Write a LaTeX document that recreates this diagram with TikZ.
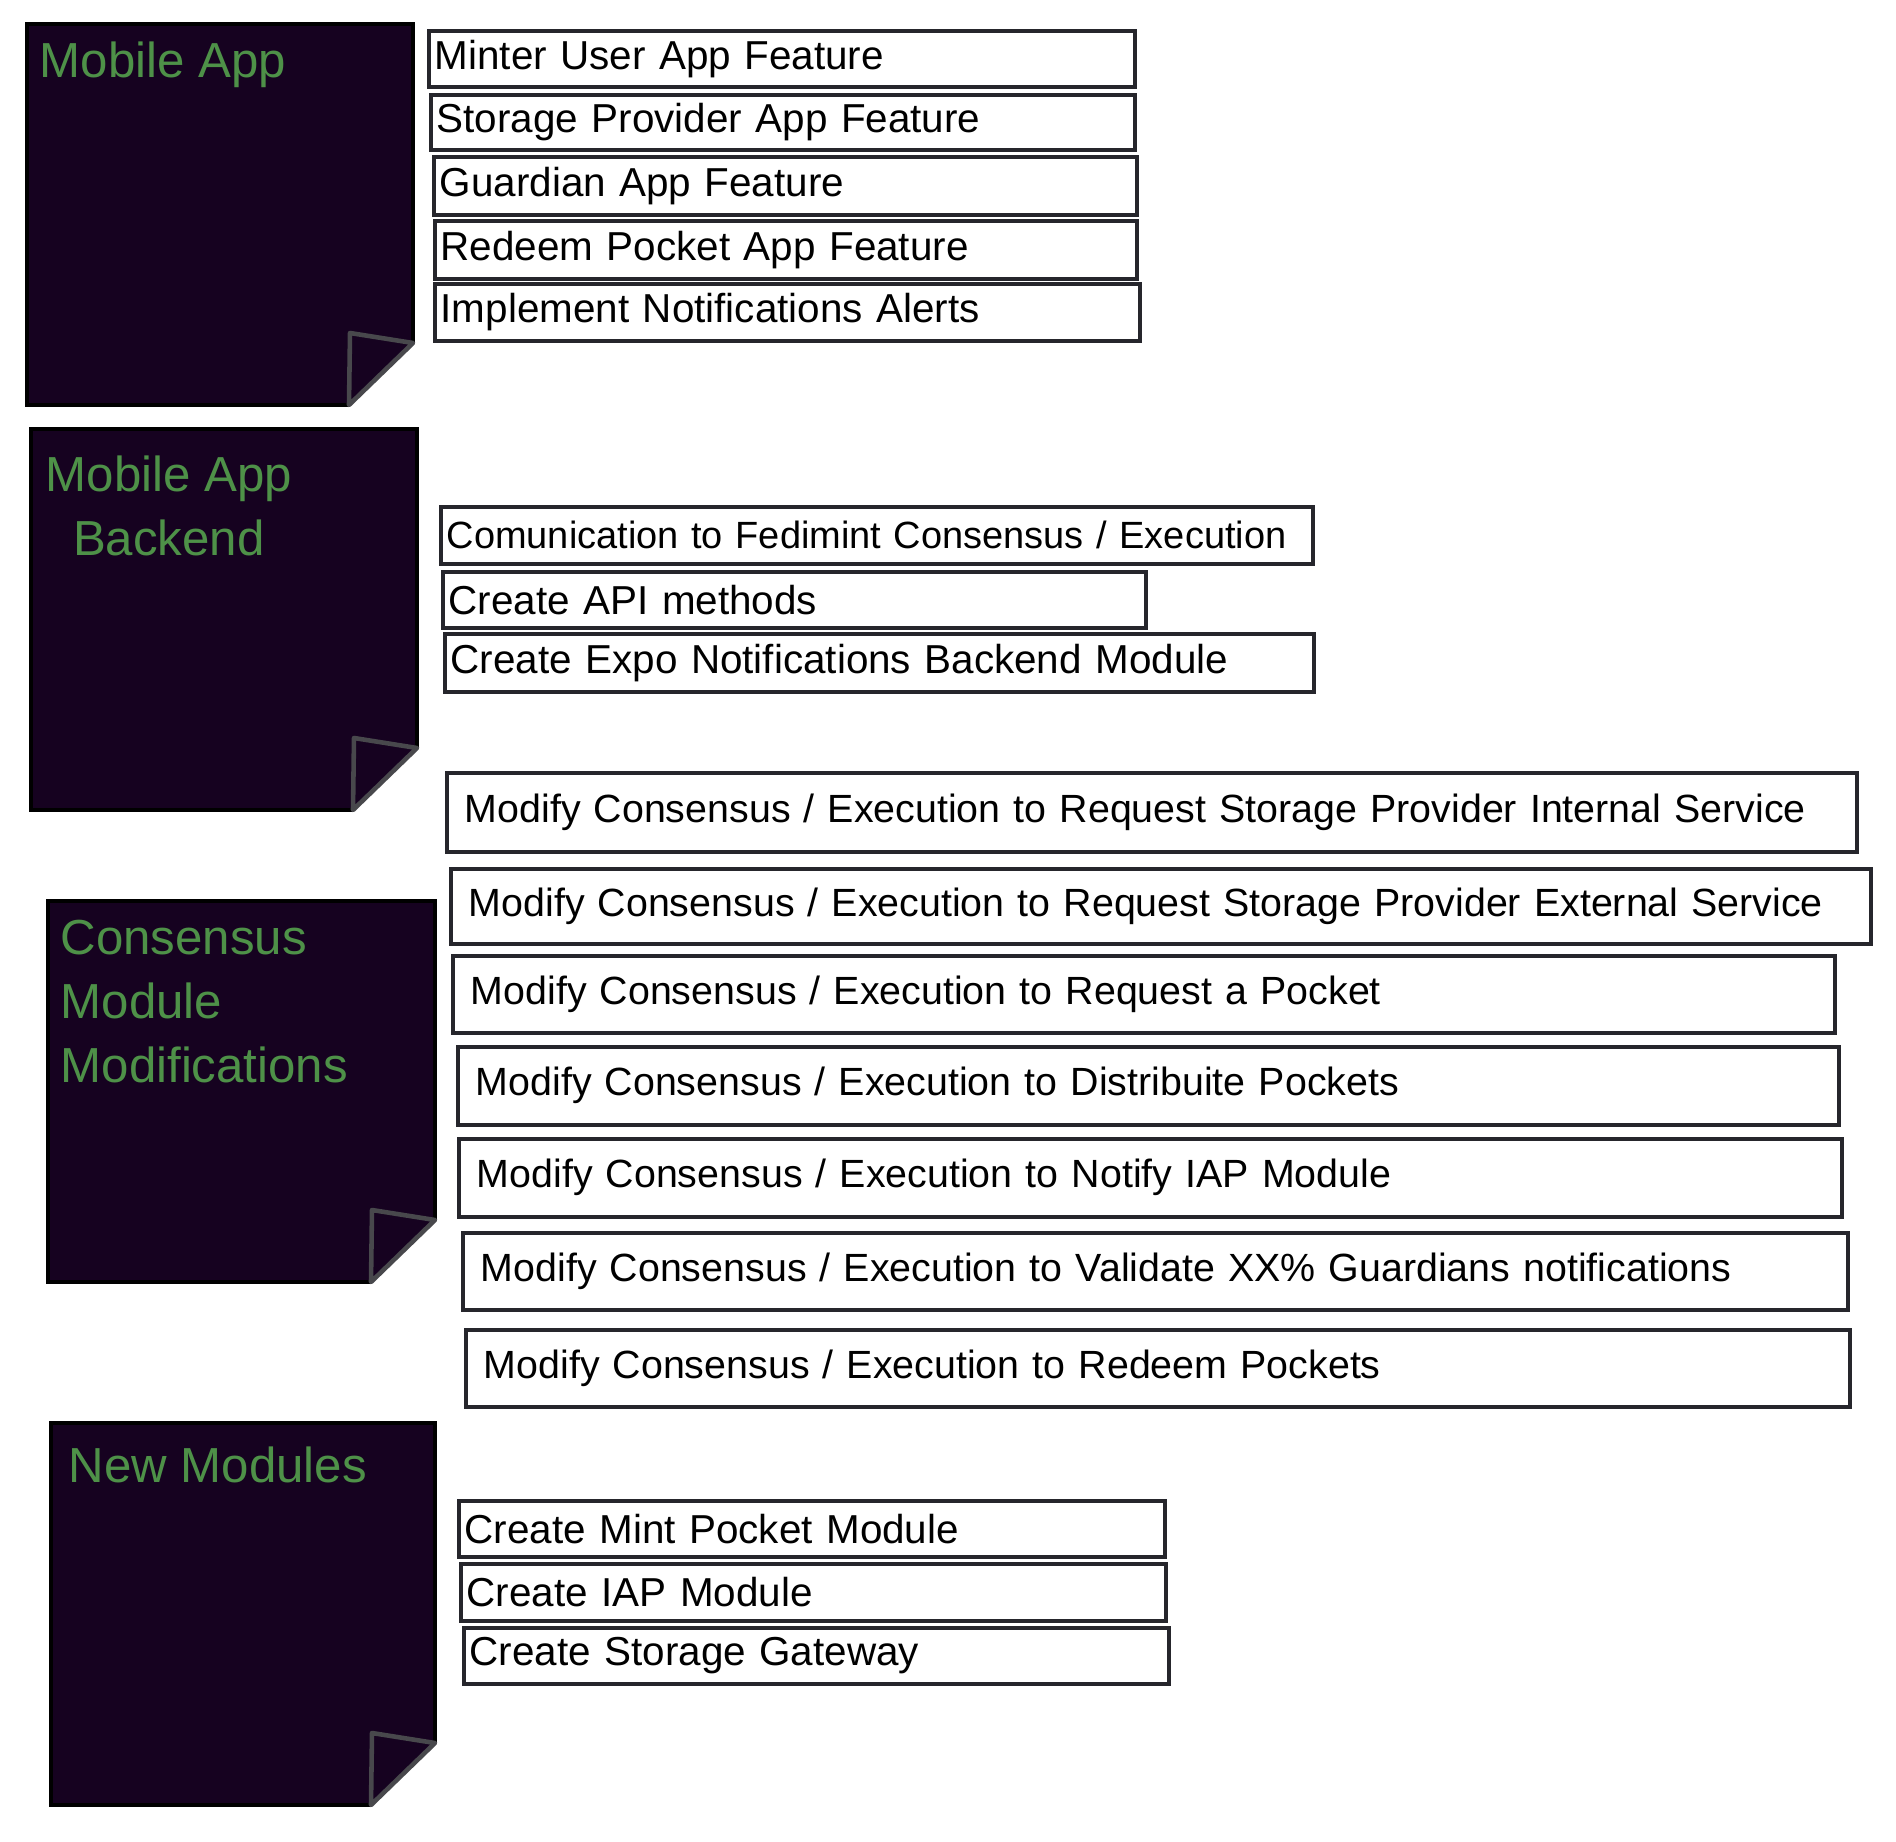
\documentclass[tikz,border=0pt]{standalone}
\usepackage{fontspec}
\setmainfont{Liberation Sans}
\definecolor{NoteClr}{RGB}{22,2,32}
\definecolor{TitleClr}{RGB}{78,145,72}
\definecolor{FoldClr}{RGB}{72,72,76}
\definecolor{EdgeClr}{RGB}{38,38,44}

\tikzset{
  taskbox/.style n args={3}{draw=EdgeClr,line width=1pt,fill=white,anchor=north west,
    text width=#1,minimum height=#2,inner xsep=#3,inner ysep=0pt,align=left,
    font=\fontsize{11.5}{13}\selectfont},
  longtask/.style={font=\fontsize{11.2}{13}\selectfont},
  notetitle/.style={text=TitleClr,inner sep=0pt,anchor=base west,
    font=\fontsize{14}{18.2}\selectfont},
  fold/.style={draw=FoldClr,line width=1.3pt,fill=NoteClr,line join=round}
}

% sticky note: name, left, top, right, bottom
\newcommand{\stickynote}[5]{%
  \fill[NoteClr] (#2,#3) -- (#4,#3) -- (#4,#5+0.62) -- (#4-0.64,#5) -- (#2,#5) -- cycle;
  \draw[black,line width=0.9pt] (#4,#5+0.62) -- (#4,#3) -- (#2,#3) -- (#2,#5) -- (#4-0.64,#5);
  \draw[fold] (#4-0.63,#5+0.72) -- (#4,#5+0.62) -- (#4-0.64,#5) -- cycle;
  \coordinate (#1) at (#2,#3);
}

\begin{document}
\begin{tikzpicture}

\useasboundingbox (0,0) rectangle (18.96,-18.42);

% notes
\stickynote{appnote}{0.27}{-0.24}{4.13}{-4.05}
\stickynote{backnote}{0.31}{-4.29}{4.17}{-8.10}
\stickynote{consnote}{0.48}{-9.01}{4.35}{-12.82}
\stickynote{newnote}{0.51}{-14.23}{4.35}{-18.05}

% base of a multi-line title is its last line
\node[notetitle] (apptitle) at (0.39,-0.78) {Mobile App};
\node[notetitle,align=center] (backtitle) at (0.45,-5.55) {Mobile App\\Backend};
\node[notetitle,align=left] (constitle) at (0.60,-10.82) {Consensus\\Module\\Modifications};
\node[notetitle] (newtitle) at (0.68,-14.82) {New Modules};

% mobile app
\node[taskbox={6.94cm}{0.56cm}{0.06cm}] (app1) at (4.27,-0.29) {Minter User App Feature};
\node[taskbox={6.92cm}{0.55cm}{0.06cm}] (app2) at (4.29,-0.93) {Storage Provider App Feature};
\node[taskbox={6.91cm}{0.58cm}{0.06cm}] (app3) at (4.32,-1.55) {Guardian App Feature};
\node[taskbox={6.90cm}{0.58cm}{0.06cm}] (app4) at (4.33,-2.19) {Redeem Pocket App Feature};
\node[taskbox={6.93cm}{0.57cm}{0.06cm}] (app5) at (4.33,-2.82) {Implement Notifications Alerts};

% backend
\node[taskbox={8.60cm}{0.57cm}{0.06cm},font=\fontsize{10.8}{13}\selectfont] (back1) at (4.39,-5.05) {Comunication to Fedimint Consensus / Execution};
\node[taskbox={6.91cm}{0.56cm}{0.06cm}] (back2) at (4.41,-5.70) {Create API methods};
\node[taskbox={8.57cm}{0.58cm}{0.06cm}] (back3) at (4.43,-6.32) {Create Expo Notifications Backend Module};

% consensus
\node[taskbox={13.74cm}{0.79cm}{0.18cm},longtask] (cons1) at (4.45,-7.71) {Modify Consensus / Execution to Request Storage Provider Internal Service};
\node[taskbox={13.84cm}{0.75cm}{0.18cm},longtask] (cons2) at (4.49,-8.67) {Modify Consensus / Execution to Request Storage Provider External Service};
\node[taskbox={13.46cm}{0.77cm}{0.18cm},longtask] (cons3) at (4.51,-9.54) {Modify Consensus / Execution to Request a Pocket};
\node[taskbox={13.45cm}{0.78cm}{0.18cm},longtask] (cons4) at (4.56,-10.45) {Modify Consensus / Execution to Distribuite Pockets};
\node[taskbox={13.47cm}{0.78cm}{0.18cm},longtask] (cons5) at (4.57,-11.37) {Modify Consensus / Execution to Notify IAP Module};
\node[taskbox={13.49cm}{0.77cm}{0.18cm},longtask] (cons6) at (4.61,-12.31) {Modify Consensus / Execution to Validate XX\% Guardians notifications};
\node[taskbox={13.48cm}{0.77cm}{0.18cm},longtask] (cons7) at (4.64,-13.28) {Modify Consensus / Execution to Redeem Pockets};

% new modules
\node[taskbox={6.94cm}{0.56cm}{0.06cm}] (new1) at (4.57,-14.99) {Create Mint Pocket Module};
\node[taskbox={6.93cm}{0.57cm}{0.06cm}] (new2) at (4.59,-15.62) {Create IAP Module};
\node[taskbox={6.93cm}{0.56cm}{0.06cm}] (new3) at (4.62,-16.26) {Create Storage Gateway};

\end{tikzpicture}
\end{document}
